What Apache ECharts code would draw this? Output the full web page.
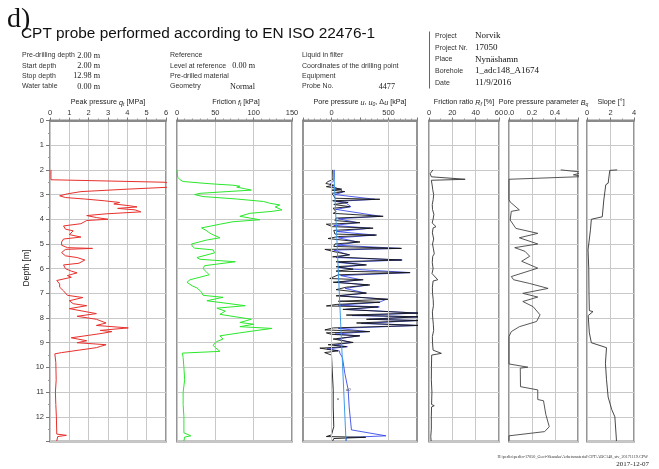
<!DOCTYPE html>
<html>
<head>
<meta charset="utf-8">
<script src="https://cdn.jsdelivr.net/npm/echarts@6/dist/echarts.min.js"></script>
<style>
html,body{margin:0;padding:0;background:#fff;}
#chart{width:659px;height:469px;}
</style>
</head>
<body>
<div id="chart"></div>
<script>
// ---- CPT sounding data (depth in m, values per channel) ----
const qtDepth = [2.00,2.40,2.45,2.50,2.55,2.70,2.78,2.88,2.97,3.05,3.12,3.18,3.25,3.32,3.38,3.45,3.50,3.56,3.62,3.70,3.78,3.85,3.93,4.00,4.05,4.18,4.27,4.40,4.47,4.55,4.62,4.72,4.80,4.92,5.05,5.15,5.18,5.22,5.35,5.48,5.55,5.65,5.72,5.78,5.85,6.00,6.10,6.17,6.28,6.35,6.48,6.62,6.75,6.90,7.08,7.17,7.30,7.42,7.50,7.62,7.70,7.82,7.93,8.05,8.20,8.30,8.40,8.50,8.55,8.62,8.70,8.80,8.92,9.00,9.08,9.15,9.20,9.40,9.45,9.80,10.5,11.0,11.5,12.0,12.70,12.75,12.80,12.98];
const qtValue = [0.05,0.05,0.10,5.9,6.3,6.2,4.0,1.6,0.9,0.5,0.8,1.8,2.8,3.6,3.3,4.1,4.5,3.5,4.4,4.7,2.9,1.9,2.4,3.0,1.9,1.6,0.7,0.8,1.2,1.3,1.0,1.6,0.7,0.6,0.6,0.9,2.2,0.8,0.6,0.8,1.4,1.8,1.9,1.5,0.7,0.8,1.1,1.4,0.9,1.1,0.35,0.5,0.5,0.7,0.9,1.7,1.0,1.2,1.9,1.0,0.9,2.4,1.4,2.4,2.9,2.4,4.05,2.6,3.2,2.7,2.0,1.1,1.9,1.4,2.9,2.6,2.4,0.6,0.25,0.30,0.32,0.28,0.30,0.33,0.35,0.85,0.40,0.35];

const ftDepth = [2.00,2.30,2.40,2.47,2.54,2.58,2.62,2.66,2.70,2.76,2.82,2.88,2.95,3.00,3.08,3.18,3.28,3.35,3.42,3.50,3.56,3.62,3.68,3.76,3.88,3.95,4.02,4.10,4.20,4.35,4.45,4.52,4.60,4.75,4.84,5.00,5.10,5.17,5.24,5.36,5.55,5.62,5.72,5.80,5.88,6.00,6.12,6.25,6.30,6.45,6.55,6.70,6.78,6.95,7.08,7.16,7.30,7.35,7.50,7.60,7.72,7.85,7.93,8.05,8.18,8.25,8.35,8.42,8.52,8.60,8.72,8.85,8.95,9.10,9.20,9.35,9.42,9.60,10.0,10.5,11.0,11.5,12.0,12.65,12.77,12.82,12.98];
const ftValue = [0,1,4,8,34,52,73,82,78,88,97,65,30,23,34,78,113,121,134,128,126,137,124,95,82,95,108,73,56,32,38,41,45,56,39,19,20,23,47,49,26,30,76,56,36,34,38,42,41,17,13,20,26,32,34,60,39,40,89,52,63,56,54,97,82,100,82,124,100,82,56,60,52,47,50,56,7,8,9,10,8,8,9,9,18,10,9];

const uDepth = [2.00,2.30,2.40,2.47,2.55,2.62,2.68,2.74,2.78,2.82,2.88,2.95,3.05,3.15,3.19,3.25,3.32,3.40,3.49,3.55,3.70,3.76,3.88,3.95,4.05,4.14,4.20,4.30,4.36,4.45,4.60,4.64,4.70,4.78,4.92,5.00,5.10,5.18,5.22,5.33,5.44,5.52,5.65,5.72,5.85,5.92,6.02,6.10,6.16,6.25,6.40,6.45,6.55,6.66,6.75,6.85,6.99,7.10,7.24,7.32,7.36,7.45,7.51,7.55,7.65,7.80,7.88,7.95,8.05,8.10,8.20,8.30,8.40,8.48,8.55,8.60,8.66,8.72,8.85,8.99,9.08,9.16,9.22,9.30,9.33,9.40,9.50,10.0,10.9,11.6,12.4,12.73,12.80,12.83,12.88,12.98];
const uValue = [10,12,10,-30,-50,20,-45,-40,90,0,117,0,20,30,424,10,146,20,160,15,40,15,453,40,30,250,-45,10,365,20,30,395,60,-30,250,30,20,614,-58,40,160,10,614,40,307,40,190,40,687,60,-15,278,15,336,130,40,307,40,497,60,424,40,-45,409,100,760,130,760,307,760,220,760,15,-58,336,-45,0,250,15,190,-30,130,-102,-88,58,-60,0,5,15,15,20,0,-45,300,20,10];

const u2Depth = [2.00,2.30,2.45,2.55,2.68,2.80,2.90,3.00,3.19,3.28,3.35,3.49,3.60,3.88,3.98,4.14,4.25,4.36,4.50,4.64,4.75,4.92,5.05,5.18,5.25,5.44,5.55,5.65,5.75,5.85,5.95,6.02,6.16,6.28,6.45,6.55,6.66,6.80,6.99,7.10,7.24,7.36,7.48,7.55,7.65,7.80,7.90,7.95,8.05,8.10,8.22,8.30,8.42,8.55,8.65,8.72,8.85,8.99,9.10,9.16,9.25,9.33,9.42,9.60,10.24,10.9,11.6,12.53,12.77,12.84,12.98];
const u2Value = [25,25,20,-10,10,80,100,30,380,40,130,170,40,430,60,230,20,340,50,380,60,230,50,600,20,150,40,620,60,290,60,180,690,80,260,50,320,120,300,70,480,420,60,420,130,760,180,760,330,760,260,760,60,320,30,240,50,170,20,140,-40,70,73,96,117,146,155,175,477,131,128];

const u0Depth = [2.00,12.98];
const u0Value = [19.6,127.3];

const rfDepth = [2.00,2.05,2.15,2.28,2.36,2.38,2.40,2.42,2.50,2.65,2.80,3.00,3.20,3.40,3.60,3.80,4.00,4.15,4.30,4.35,4.55,4.80,5.00,5.20,5.40,5.50,5.75,6.00,6.20,6.45,6.50,6.75,7.00,7.25,7.50,7.75,8.00,8.25,8.50,8.75,9.00,9.30,9.43,9.50,10.0,10.5,11.0,11.5,11.55,11.6,12.0,12.5,12.8,12.98];
const rfValue = [3.4,5.0,1.0,2.0,2.5,31,18,2.0,3.5,2.8,3.2,4.0,3.6,2.8,3.0,4.2,3.5,2.7,6.0,3.5,2.9,4.0,3.0,3.8,4.5,3.2,2.8,3.5,2.6,7.5,3.5,2.9,3.0,3.6,3.8,2.9,3.2,3.7,4.0,2.9,3.0,3.5,10.6,2.3,2.1,2.0,2.5,2.2,4.5,2.2,2.0,2.0,1.5,1.8];

const bqDepth = [2.00,2.10,2.20,2.27,2.38,3.20,3.30,3.62,3.68,4.03,4.37,4.57,4.75,5.00,5.15,5.30,5.50,5.70,5.98,6.32,6.45,6.60,6.80,7.00,7.15,7.33,7.54,7.87,8.14,8.35,8.55,8.75,9.86,9.99,10.03,10.78,10.91,11.30,11.35,11.90,12.40,12.60,12.77,12.98];
const bqValue = [0.45,0.65,0.56,0.65,0.0,0.0,0.01,0.09,0.02,0.01,0.06,0.25,0.09,0.25,0.05,0.14,0.18,0.11,0.25,0.02,0.04,0.18,0.34,0.12,0.25,0.12,0.21,0.27,0.24,0.09,0.02,0.0,0.0,0.164,0.098,0.10,0.25,0.25,0.30,0.32,0.35,0.31,0.0,0.0];

const slopeDepth = [2.00,2.02,2.10,2.54,2.60,2.65,3.22,3.90,3.95,4.00,4.40,4.80,5.24,6.00,7.00,7.70,7.74,7.90,8.60,9.00,9.20,9.83,10.5,11.2,11.7,12.0,12.9,12.98];
const slopeValue = [2.57,1.94,1.85,1.80,1.60,1.75,1.43,1.30,1.30,0.37,0.30,0.20,0.09,0.15,0.17,0.20,0.51,0.10,0.20,0.37,1.66,1.57,1.66,1.80,2.10,2.37,2.50,2.50];

// ---- axis scales of the six columns ----
const depthTicks = [0,1,2,3,4,5,6,7,8,9,10,11,12];
const columns = [
  {left: 50,  width: 116, min: 0,    max: 6,   interval: 1,   minor: 2},
  {left: 177, width: 115, min: 0,    max: 150, interval: 50,  minor: 5},
  {left: 303, width: 114, min: -250, max: 750, interval: 250, minor: 5},
  {left: 429, width: 70,  min: 0,    max: 60,  interval: 20,  minor: 2},
  {left: 509, width: 69,  min: 0,    max: 0.6, interval: 0.2, minor: 2},
  {left: 587, width: 47,  min: 0,    max: 4,   interval: 2,   minor: 2}
];
const poreLabels = [0, 500];

const TOP = 120.5, HEIGHT = 321;
const SANS = 'Liberation Sans, Arial, sans-serif';
const SERIF = 'Liberation Serif, Times New Roman, serif';
const GRID_COLOR = '#c8c8c8';
const FRAME_COLOR = '#8a8a8a';

function pairs(depths, values) {
  return depths.map((d, i) => [values[i], d]);
}

const grids = columns.map(c => ({
  left: c.left, top: TOP, width: c.width, height: HEIGHT,
  show: true, borderColor: FRAME_COLOR, borderWidth: 1.8, backgroundColor: 'transparent'
}));

const xAxes = columns.map((c, i) => ({
  gridIndex: i, type: 'value', position: 'top',
  min: c.min, max: c.max, interval: c.interval,
  axisLine: {show: true, lineStyle: {color: FRAME_COLOR, width: 1.8}},
  axisTick: {show: true, length: 3, lineStyle: {color: '#777'}},
  minorTick: {show: true, splitNumber: c.minor, length: 2, lineStyle: {color: '#999'}},
  axisLabel: {
    show: true, fontSize: 7.5, color: '#333', fontFamily: SANS, margin: 4,
    formatter: v => {
      if (i === 2) return poreLabels.includes(Math.round(v)) ? String(Math.round(v)) : '';
      if (i === 4) return v > 0.5 ? '' : v.toFixed(1);
      return String(v);
    }
  },
  splitLine: {show: i !== 2, lineStyle: {color: GRID_COLOR, width: 1}}
}));

const yAxes = columns.map((c, i) => ({
  gridIndex: i, type: 'value', inverse: true, min: 0, max: 13, interval: 1,
  axisLine: {show: false},
  axisTick: {show: i === 0, length: 4, lineStyle: {color: '#777'}},
  minorTick: {show: i === 0, splitNumber: 2, length: 2, lineStyle: {color: '#999'}},
  axisLabel: {
    show: i === 0, fontSize: 7.5, color: '#333', fontFamily: SANS, margin: 6,
    formatter: v => depthTicks.includes(v) ? String(v) : ''
  },
  splitLine: {show: true, lineStyle: {color: GRID_COLOR, width: 1}}
}));

function lineSeries(idx, data, color, width, z) {
  return {
    type: 'line', xAxisIndex: idx, yAxisIndex: idx, data: data,
    showSymbol: false, symbol: 'none', clip: true, animation: false, z: z || 2,
    lineStyle: {color: color, width: width}
  };
}

const series = [
  lineSeries(0, pairs(qtDepth, qtValue), '#e8302c', 1),
  lineSeries(1, pairs(ftDepth, ftValue), '#2be82b', 1),
  Object.assign(lineSeries(2, pairs(u2Depth, u2Value), '#2233e6', 0.8, 2), {
    markLine: {
      silent: true, symbol: 'none', animation: false, label: {show: false},
      lineStyle: {color: GRID_COLOR, width: 1, type: 'solid'},
      data: poreLabels.map(v => ({xAxis: v}))
    }
  }),
  lineSeries(2, pairs(uDepth, uValue), '#151515', 0.9, 3),
  lineSeries(2, pairs(u0Depth, u0Value), '#3d9be9', 1, 4),
  lineSeries(3, pairs(rfDepth, rfValue), '#333333', 0.9),
  lineSeries(4, pairs(bqDepth, bqValue), '#444444', 0.9),
  lineSeries(5, pairs(slopeDepth, slopeValue), '#333333', 0.9)
];

// ---- header and labels ----
function txt(text, x, y, size, family, opts) {
  return {
    type: 'text', silent: true, z: 10,
    style: Object.assign({
      text: text, x: x, y: y, fontSize: size, fontFamily: family,
      fill: '#222', align: 'left', verticalAlign: 'middle'
    }, opts || {})
  };
}

const infoLabels1 = ['Pre-drilling depth', 'Start depth', 'Stop depth', 'Water table'];
const infoValues1 = ['2.00 m', '2.00 m', '12.98 m', '0.00 m'];
const infoLabels2 = ['Reference', 'Level at reference', 'Pre-drilled material', 'Geometry'];
const infoValues2 = ['', '0.00 m', '', 'Normal'];
const infoLabels3 = ['Liquid in filter', 'Coordinates of the drilling point', 'Equipment', 'Probe No.'];
const infoValues3 = ['', '', '', '4477'];
const rowY = [55.5, 65.8, 76.1, 86.4];
const projLabels = ['Project', 'Project Nr.', 'Place', 'Borehole', 'Date'];
const projValues = ['Norvik', '17050', 'Nynäshamn', '1_adc148_A1674', '11/9/2016'];
const projY = [36, 47.7, 59.4, 71.1, 82.8];

const graphics = [];
graphics.push(txt('d)', 7, 19.5, 28, SERIF, {fill: '#111'}));
graphics.push(txt('CPT probe performed according to EN ISO 22476-1', 21, 33.5, 15.4, SANS, {fill: '#111'}));
rowY.forEach((y, r) => {
  graphics.push(txt(infoLabels1[r], 22, y, 7, SANS, {fill: '#333'}));
  graphics.push(txt(infoValues1[r], 100, y, 8.2, SERIF, {align: 'right', fill: '#222'}));
  graphics.push(txt(infoLabels2[r], 170, y, 7, SANS, {fill: '#333'}));
  if (infoValues2[r]) graphics.push(txt(infoValues2[r], 255, y, 8.2, SERIF, {align: 'right', fill: '#222'}));
  graphics.push(txt(infoLabels3[r], 302, y, 7, SANS, {fill: '#333'}));
  if (infoValues3[r]) graphics.push(txt(infoValues3[r], 395, y, 8.2, SERIF, {align: 'right', fill: '#222'}));
});
graphics.push({type: 'line', silent: true, shape: {x1: 429.5, y1: 31.5, x2: 429.5, y2: 88.5}, style: {stroke: '#666', lineWidth: 1}});
projY.forEach((y, r) => {
  graphics.push(txt(projLabels[r], 435, y, 7, SANS, {fill: '#333'}));
  graphics.push(txt(projValues[r], 475, y, 9, SERIF, {fill: '#111'}));
});

// column titles with italic symbols and subscripts
const titleRich = {
  a: {fontSize: 7.2, fontFamily: SANS, fill: '#222', lineHeight: 9},
  i: {fontSize: 7.2, fontFamily: SANS, fontStyle: 'italic', fill: '#222', lineHeight: 9},
  s: {fontSize: 5, fontFamily: SANS, fontStyle: 'italic', fill: '#222', lineHeight: 9, verticalAlign: 'bottom'}
};
const columnTitles = [
  '{a|Peak pressure }{i|q}{s|t}{a| [MPa]}',
  '{a|Friction }{i|f}{s|t}{a| [kPa]}',
  '{a|Pore pressure }{i|u}{a|, }{i|u}{s|0}{a|, Δ}{i|u}{a| [kPa]}',
  '{a|Friction ratio }{i|R}{s|f}{a| [%]}',
  '{a|Pore pressure parameter }{i|B}{s|q}',
  '{a|Slope [°]}'
];
const titleX = [108, 236, 360, 464, 543.5, 611];
columnTitles.forEach((t, i) => {
  graphics.push({
    type: 'text', silent: true, z: 10,
    style: {text: t, rich: titleRich, x: titleX[i], y: 102.5, align: 'center', verticalAlign: 'middle'}
  });
});

graphics.push({
  type: 'text', silent: true, z: 10, x: 27, y: 268, rotation: Math.PI / 2,
  style: {text: 'Depth [m]', x: 0, y: 0, fontSize: 8.5, fontFamily: SANS, fill: '#222', align: 'center', verticalAlign: 'middle'}
});

// curve tags in the pore pressure column
graphics.push(txt('u', 337, 399, 4.5, SERIF, {fill: '#333', fontStyle: 'italic'}));
graphics.push(txt('u0', 346, 390, 4.5, SERIF, {fill: '#333', fontStyle: 'italic'}));

// footer
graphics.push(txt('H:\\perlin\\perlin-17050_Geof-Skanska\\Arbetsmaterial\\CPT\\ADC148_stv_20171119.CPW', 648, 456.5, 4.2, SERIF, {align: 'right', fill: '#333'}));
graphics.push(txt('2017-12-07', 649, 464, 7, SERIF, {align: 'right', fill: '#222'}));

const chart = echarts.init(document.getElementById('chart'), null, {renderer: 'canvas'});
chart.setOption({
  animation: false,
  backgroundColor: '#ffffff',
  grid: grids,
  xAxis: xAxes,
  yAxis: yAxes,
  series: series,
  graphic: graphics
});
</script>
</body>
</html>
